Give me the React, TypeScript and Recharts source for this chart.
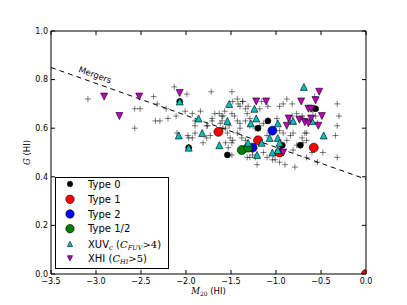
import React from 'react';
import { ScatterChart, Scatter, XAxis, YAxis, ReferenceLine, ReferenceDot } from 'recharts';

// ---------- data ----------
const xTicks = [-3.5, -3.0, -2.5, -2.0, -1.5, -1.0, -0.5, 0.0];
const yTicks = [0.0, 0.2, 0.4, 0.6, 0.8, 1.0];

const mergerLine = [
  { x: -3.5, y: 0.85 },
  { x: 0.0, y: 0.39 },
];
const mergerLabel = { x: -3.01, y: 0.82, text: 'Mergers' };

const sample: [number, number][] = [
  [-3.09, 0.72], [-2.57, 0.68], [-2.51, 0.68], [-2.57, 0.6], [-2.36, 0.73], [-2.32, 0.7], [-2.34, 0.63], [-2.29, 0.63],
  [-2.22, 0.68], [-2.2, 0.64], [-2.13, 0.77], [-2.11, 0.65], [-1.99, 0.74], [-2.01, 0.67], [-1.93, 0.66], [-1.9, 0.61],
  [-2.1, 0.58], [-1.98, 0.57], [-1.93, 0.56], [-1.97, 0.56],
  [-1.72, 0.75], [-1.81, 0.54], [-1.76, 0.61], [-1.73, 0.57], [-1.68, 0.66], [-1.63, 0.66], [-1.59, 0.65], [-1.57, 0.67],
  [-1.71, 0.64], [-1.6, 0.63], [-1.56, 0.6], [-1.54, 0.58], [-1.56, 0.54],
  [-1.49, 0.75], [-1.43, 0.72], [-1.37, 0.71], [-1.37, 0.71], [-1.48, 0.71], [-1.42, 0.7], [-1.4, 0.69], [-1.34, 0.68],
  [-1.31, 0.69], [-1.32, 0.66], [-1.29, 0.64], [-1.16, 0.71], [-1.09, 0.69], [-1.18, 0.68], [-0.88, 0.72], [-0.82, 0.7],
  [-0.96, 0.69], [-0.77, 0.66], [-0.71, 0.65], [-0.32, 0.7], [-0.3, 0.65],
  [-1.6, 0.65], [-1.71, 0.63], [-1.77, 0.61], [-1.49, 0.66], [-1.46, 0.65], [-1.43, 0.63], [-1.4, 0.62], [-1.34, 0.63],
  [-1.52, 0.61], [-1.62, 0.62], [-1.59, 0.6], [-1.9, 0.63], [-1.84, 0.67], [-1.18, 0.61], [-1.14, 0.62], [-1.23, 0.6],
  [-0.99, 0.64], [-0.84, 0.63], [-0.59, 0.67], [-0.54, 0.62], [-0.32, 0.61],
  [-1.9, 0.58], [-1.77, 0.56], [-1.51, 0.56], [-1.48, 0.55], [-1.49, 0.54], [-1.43, 0.58], [-1.4, 0.6], [-1.38, 0.56],
  [-1.34, 0.55], [-1.29, 0.61], [-1.1, 0.57], [-0.96, 0.59], [-0.92, 0.58], [-0.88, 0.55], [-0.81, 0.58], [-0.66, 0.58],
  [-0.66, 0.55], [-0.77, 0.53], [-0.81, 0.51], [-0.34, 0.57], [-0.32, 0.48],
  [-1.32, 0.48], [-1.29, 0.48], [-1.23, 0.48], [-1.21, 0.45], [-1.1, 0.48], [-1.04, 0.47], [-1.01, 0.47], [-0.96, 0.46],
  [-0.9, 0.45], [-0.79, 0.44], [-0.54, 0.46], [-1.26, 0.49], [-1.53, 0.52], [-1.34, 0.51], [-1.14, 0.5], [-1.03, 0.49],
  [-0.48, 0.5], [-1.49, 0.49], [-0.66, 0.48], [-0.6, 0.5],
  [-0.7, 0.54], [-0.84, 0.57], [-0.71, 0.56], [-0.68, 0.58], [-0.69, 0.64], [-0.57, 0.73], [-0.56, 0.65], [-0.82, 0.65],
  [-0.92, 0.7],
];

const type0: [number, number][] = [
  [-2.07, 0.71], [-1.97, 0.52], [-1.09, 0.63], [-1.2, 0.6], [-1.54, 0.49], [-0.73, 0.53], [-0.56, 0.68], [-0.93, 0.53],
];
const type1: [number, number][] = [
  [-1.64, 0.585], [-1.2, 0.55], [-0.96, 0.5], [-0.58, 0.52], [0.0, 0.0],
];
const type2: [number, number][] = [
  [-1.04, 0.59], [-1.26, 0.52],
];
const type12: [number, number][] = [
  [-1.38, 0.51], [-1.31, 0.52],
];
const xuv: [number, number][] = [
  [-2.07, 0.71], [-2.08, 0.57], [-1.97, 0.52], [-1.86, 0.64], [-1.82, 0.58], [-1.63, 0.53], [-1.54, 0.63], [-1.52, 0.7],
  [-0.69, 0.77], [-1.24, 0.68], [-1.22, 0.64], [-1.28, 0.62], [-0.98, 0.62], [-0.81, 0.63], [-0.6, 0.63], [-0.47, 0.57],
  [-0.98, 0.56], [-1.07, 0.56], [-1.31, 0.54], [-1.16, 0.54], [-0.96, 0.54], [-1.21, 0.49], [-1.04, 0.5], [-0.98, 0.51],
];
const xhi: [number, number][] = [
  [-2.91, 0.73], [-2.74, 0.65], [-2.52, 0.73], [-2.07, 0.745], [-1.22, 0.71], [-1.11, 0.71], [-0.72, 0.71], [-0.56, 0.715],
  [-0.52, 0.75], [-0.64, 0.68], [-0.61, 0.68], [-0.49, 0.65], [-0.86, 0.64], [-0.88, 0.61], [-0.74, 0.635], [-0.68, 0.625],
  [-0.64, 0.62], [-0.61, 0.64], [-0.53, 0.61], [-0.92, 0.5],
];

// ---------- helpers ----------
const toPts = (arr: [number, number][]) => arr.map(([x, y]) => ({ x, y }));
const FONT = 'DejaVu Sans';
const MATH = 'DejaVu Serif';
const fmt = (v: number) => v.toFixed(1).replace('-', '\u2212');

const C_CYAN = '#00BFBF';
const C_MAG = '#BF00BF';

const circleShape = (r: number, fill: string) => (p: any) =>
  <circle cx={p.cx} cy={p.cy} r={r} fill={fill} stroke="#000" strokeWidth={0.6} />;

const triUpPath = (cx: number, cy: number, s: number) =>
  `M${cx},${cy - s} L${cx + s},${cy + s} L${cx - s},${cy + s} Z`;
const triDownPath = (cx: number, cy: number, s: number) =>
  `M${cx},${cy + s} L${cx + s},${cy - s} L${cx - s},${cy - s} Z`;

const triUpShape = (p: any) =>
  <path d={triUpPath(p.cx, p.cy, 3.5)} fill={C_CYAN} stroke="#000" strokeWidth={0.6} />;
const triDownShape = (p: any) =>
  <path d={triDownPath(p.cx, p.cy, 3.5)} fill={C_MAG} stroke="#000" strokeWidth={0.6} />;
const plusShape = (p: any) =>
  <path d={`M${p.cx - 3},${p.cy} H${p.cx + 3} M${p.cx},${p.cy - 3} V${p.cy + 3}`} stroke="#000" strokeOpacity={0.5} strokeWidth={1} fill="none" />;

const BottomTick = (p: any) => (
  <g>
    <line x1={p.x} y1={p.y} x2={p.x} y2={p.y - 4} stroke="#000" strokeWidth={1} />
    <text x={p.x} y={p.y + 10} textAnchor="middle" fontSize={8} fontFamily={FONT} fill="#000">{fmt(p.payload.value)}</text>
  </g>
);
const LeftTick = (p: any) => (
  <g>
    <line x1={p.x} y1={p.y} x2={p.x + 4} y2={p.y} stroke="#000" strokeWidth={1} />
    <text x={p.x - 3} y={p.y} dy="0.35em" textAnchor="end" fontSize={8} fontFamily={FONT} fill="#000">{fmt(p.payload.value)}</text>
  </g>
);
const TopTick = (p: any) => <line x1={p.x} y1={p.y} x2={p.x} y2={p.y + 4} stroke="#000" strokeWidth={1} />;
const RightTick = (p: any) => <line x1={p.x} y1={p.y} x2={p.x - 4} y2={p.y} stroke="#000" strokeWidth={1} />;

const XLabel = (props: any) => {
  const vb = props.viewBox || { x: 43, y: 266, width: 315, height: 31 };
  const cx = vb.x + vb.width / 2;
  return (
    <text x={cx} y={vb.y + 20} textAnchor="middle" fontSize={8.5} fontFamily={FONT} fill="#000">
      <tspan fontFamily={MATH} fontStyle="italic">M</tspan>
      <tspan fontFamily={MATH} fontSize={6} dy={2}>20</tspan>
      <tspan dy={-2}> (HI)</tspan>
    </text>
  );
};
const YLabel = (props: any) => {
  const vb = props.viewBox || { x: 0, y: 23, width: 43, height: 243 };
  const cx = vb.x + 19;
  const cy = vb.y + vb.height / 2;
  return (
    <text x={cx} y={cy} dy="0.35em" textAnchor="middle" transform={`rotate(-90, ${cx}, ${cy})`} fontSize={8.5} fontFamily={FONT} fill="#000">
      <tspan fontFamily={MATH} fontStyle="italic">G</tspan>
      <tspan> (HI)</tspan>
    </text>
  );
};
const MergerText = (props: any) => {
  const vb = props.viewBox || { x: 0, y: 0 };
  return (
    <text x={vb.x} y={vb.y} dy="0.35em" textAnchor="middle" transform={`rotate(20, ${vb.x}, ${vb.y})`} fontSize={8.5} fontFamily={FONT} fill="#000">
      {mergerLabel.text}
    </text>
  );
};

const Legend = () => {
  const rows = [7, 22.3, 37, 51.7, 67, 81.3];
  const mx = 15;
  const tx = 33;
  const fs = 10;
  const base = (y: number) => y + 3.6;
  return (
    <svg width={115} height={93} style={{ position: 'absolute', left: 47, top: 169 }}>
      <rect x={0.5} y={0.5} width={113} height={91} fill="#fff" stroke="#000" strokeWidth={1} />
      <circle cx={mx} cy={rows[0]} r={2.7} fill="#000" stroke="#000" strokeWidth={0.6} />
      <circle cx={mx} cy={rows[1]} r={4.2} fill="#FF0000" stroke="#000" strokeWidth={0.6} />
      <circle cx={mx} cy={rows[2]} r={4.2} fill="#0000FF" stroke="#000" strokeWidth={0.6} />
      <circle cx={mx} cy={rows[3]} r={4.2} fill="#008000" stroke="#000" strokeWidth={0.6} />
      <path d={triUpPath(mx, rows[4], 2.6)} fill={C_CYAN} stroke="#000" strokeWidth={0.6} />
      <path d={triDownPath(mx, rows[5], 2.6)} fill={C_MAG} stroke="#000" strokeWidth={0.6} />
      <g fontFamily={FONT} fontSize={fs} fill="#000">
        <text x={tx} y={base(rows[0])}>Type 0</text>
        <text x={tx} y={base(rows[1])}>Type 1</text>
        <text x={tx} y={base(rows[2])}>Type 2</text>
        <text x={tx} y={base(rows[3])}>Type 1/2</text>
        <text x={tx} y={base(rows[4])}>
          XUV<tspan fontFamily={MATH} fontStyle="italic" fontSize={7} dy={2}>c</tspan>
          <tspan dy={-2}> (</tspan>
          <tspan fontFamily={MATH} fontStyle="italic">C</tspan>
          <tspan fontFamily={MATH} fontStyle="italic" fontSize={6.5} dy={2}>FUV</tspan>
          <tspan fontFamily={MATH} dy={-2}>&gt;4</tspan>)
        </text>
        <text x={tx} y={base(rows[5])}>
          XHI (<tspan fontFamily={MATH} fontStyle="italic">C</tspan>
          <tspan fontFamily={MATH} fontStyle="italic" fontSize={6.5} dy={2}>HI</tspan>
          <tspan fontFamily={MATH} dy={-2}>&gt;5</tspan>)
        </text>
      </g>
    </svg>
  );
};

export default function App() {
  return (
    <div style={{ position: 'relative', width: 399, height: 297 }}>
      <ScatterChart width={399} height={297} margin={{ top: 22, right: 40, left: 0, bottom: 0 }}>
        <XAxis
          xAxisId="b" dataKey="x" type="number" domain={[-3.5, 0]} allowDataOverflow ticks={xTicks} interval={0}
          height={31} tickSize={0} tickMargin={0} tickLine={false} axisLine={{ stroke: '#000' }} tick={BottomTick}
          label={(p: any) => <XLabel {...p} />}
        />
        <XAxis
          xAxisId="t" orientation="top" dataKey="x" type="number" domain={[-3.5, 0]} allowDataOverflow ticks={xTicks} interval={0}
          height={1} tickSize={0} tickMargin={0} tickLine={false} axisLine={{ stroke: '#000' }} tick={TopTick}
        />
        <YAxis
          yAxisId="l" dataKey="y" type="number" domain={[0, 1]} allowDataOverflow ticks={yTicks} interval={0}
          width={43} tickSize={0} tickMargin={0} tickLine={false} axisLine={{ stroke: '#000' }} tick={LeftTick}
          label={(p: any) => <YLabel {...p} />}
        />
        <YAxis
          yAxisId="r" orientation="right" dataKey="y" type="number" domain={[0, 1]} allowDataOverflow ticks={yTicks} interval={0}
          width={1} tickSize={0} tickMargin={0} tickLine={false} axisLine={{ stroke: '#000' }} tick={RightTick}
        />
        <Scatter xAxisId="b" yAxisId="l" data={toPts(sample)} shape={plusShape} isAnimationActive={false} />
        <Scatter xAxisId="b" yAxisId="l" data={toPts(type0)} shape={circleShape(3, '#000')} isAnimationActive={false} />
        <Scatter xAxisId="b" yAxisId="l" data={toPts(type1)} shape={circleShape(4.5, '#FF0000')} isAnimationActive={false} />
        <Scatter xAxisId="b" yAxisId="l" data={toPts(type2)} shape={circleShape(4.5, '#0000FF')} isAnimationActive={false} />
        <Scatter xAxisId="b" yAxisId="l" data={toPts(type12)} shape={circleShape(4.5, '#008000')} isAnimationActive={false} />
        <Scatter xAxisId="b" yAxisId="l" data={toPts(xuv)} shape={triUpShape} isAnimationActive={false} />
        <Scatter xAxisId="b" yAxisId="l" data={toPts(xhi)} shape={triDownShape} isAnimationActive={false} />
        <ReferenceLine
          xAxisId="b" yAxisId="l" segment={mergerLine} stroke="#000" strokeWidth={1} strokeDasharray="5 4" ifOverflow="visible"
        />
        <ReferenceDot
          xAxisId="b" yAxisId="l" x={mergerLabel.x} y={mergerLabel.y} r={0} fill="none" stroke="none"
          label={(p: any) => <MergerText {...p} />}
        />
      </ScatterChart>
      <Legend />
    </div>
  );
}
